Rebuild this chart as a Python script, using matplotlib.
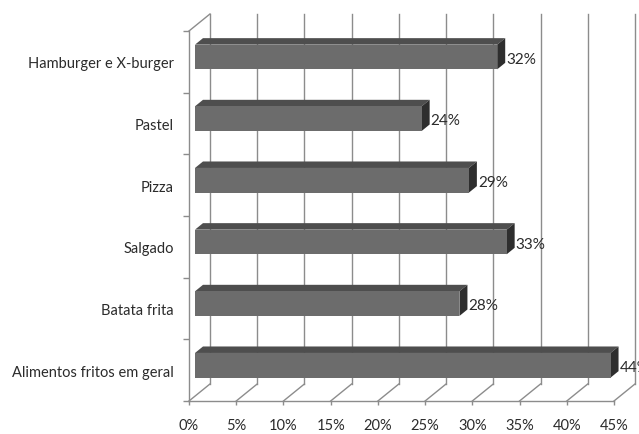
import matplotlib
matplotlib.use("Agg")
import matplotlib.pyplot as plt
from matplotlib.ticker import FixedLocator

plt.rcParams['font.family'] = ['Lato', 'DejaVu Sans']

# Data (bottom to top)
categories = ["Alimentos fritos em geral", "Batata frita", "Salgado",
              "Pizza", "Pastel", "Hamburger e X-burger"]
values = [44, 28, 33, 29, 24, 32]
xticks = [0, 5, 10, 15, 20, 25, 30, 35, 40, 45]

# 3D geometry in data units
DX = 2.22     # wall depth along x (percent units)
DY = 0.276    # wall depth along y (category units)
BAR_FRONT = 0.286   # depth fraction of bar front face
BAR_BACK = 0.667    # depth fraction of bar back face
BAR_H = 0.4

FRONT = "#6c6c6c"
TOP = "#4e4e4e"
SIDE = "#2e2e2e"
GRID = "#8c8c8c"
TEXT = "#2b2b2b"

fig = plt.figure(figsize=(6.39, 4.35), dpi=100)
ax = fig.add_axes([189 / 639, 33 / 435, 425 / 639, 370 / 435])
ax.set_xlim(0, 45)
ax.set_ylim(-0.5, len(categories) - 0.5)
ymin, ymax = -0.5, len(categories) - 0.5

# back wall gridlines and floor diagonals
for v in xticks:
    ax.plot([v + DX, v + DX], [ymin + DY, ymax + DY], color=GRID, lw=1.0,
            zorder=1, clip_on=False)
    ax.plot([v, v + DX], [ymin, ymin + DY], color=GRID, lw=1.0,
            zorder=1, clip_on=False)
# top-left wall edge
ax.plot([0, DX], [ymax, ymax + DY], color=GRID, lw=1.0, zorder=1, clip_on=False)

# bars
for i, v in enumerate(values):
    fx0, fx1 = BAR_FRONT * DX, v + BAR_FRONT * DX
    fy0, fy1 = i - BAR_H / 2 + BAR_FRONT * DY, i + BAR_H / 2 + BAR_FRONT * DY
    bx = (BAR_BACK - BAR_FRONT) * DX
    by = (BAR_BACK - BAR_FRONT) * DY
    # top face
    ax.fill([fx0, fx1, fx1 + bx, fx0 + bx], [fy1, fy1, fy1 + by, fy1 + by],
            color=TOP, lw=0, zorder=3, clip_on=False)
    # right face
    ax.fill([fx1, fx1 + bx, fx1 + bx, fx1], [fy0, fy0 + by, fy1 + by, fy1],
            color=SIDE, lw=0, zorder=3, clip_on=False)
    # front face
    ax.fill([fx0, fx1, fx1, fx0], [fy0, fy0, fy1, fy1],
            color=FRONT, lw=0, zorder=4, clip_on=False)
    ax.text(fx1 + bx + 0.1, (fy0 + fy1) / 2 - 0.03, f"{v}%", ha="left",
            va="center", fontsize=11, color=TEXT, zorder=5, clip_on=False)

# axes styling
for s in ("top", "right"):
    ax.spines[s].set_visible(False)
for s in ("left", "bottom"):
    ax.spines[s].set_color(GRID)
    ax.spines[s].set_linewidth(1.0)
ax.patch.set_visible(False)

ax.set_yticks(range(len(categories)))
ax.set_yticklabels(categories, fontsize=10.5, color=TEXT)
ax.yaxis.set_minor_locator(FixedLocator([i - 0.5 for i in range(len(categories) + 1)]))
ax.tick_params(axis="y", which="major", length=0, pad=11)
ax.tick_params(axis="y", which="minor", length=4, color=GRID, width=1.0)

ax.set_xticks(xticks)
ax.set_xticklabels([f"{t}%" for t in xticks], fontsize=10.5, color=TEXT)
ax.tick_params(axis="x", which="major", length=3, color=GRID, width=1.0, pad=9)

fig.savefig("out.png", dpi=100)
